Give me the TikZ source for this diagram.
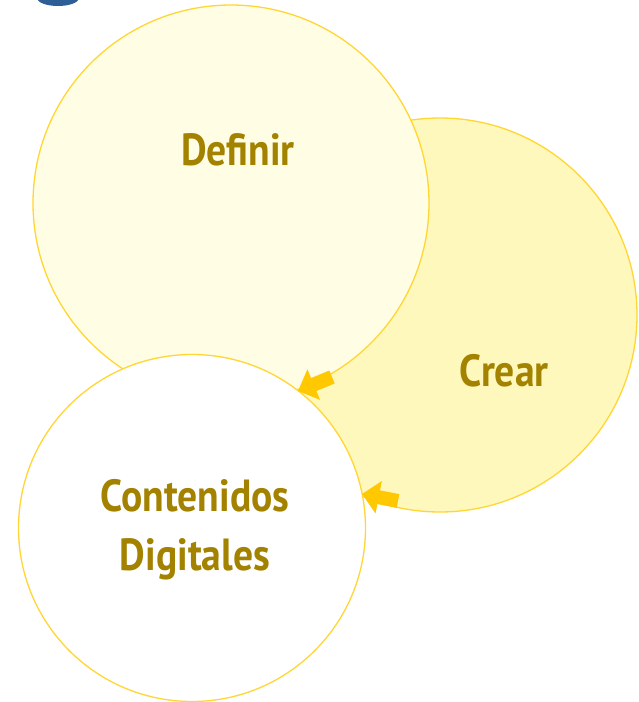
\documentclass[tikz,border=0pt]{standalone}
\usepackage{fontspec}
\newfontfamily\lblfont[FakeStretch=0.88]{PT Sans}
\usetikzlibrary{arrows.meta}
\definecolor{ringline}{HTML}{FFD633}
\definecolor{deffill}{HTML}{FFFDE4}
\definecolor{crefill}{HTML}{FFF8BC}
\definecolor{txtcol}{HTML}{A38200}
\definecolor{arrowcol}{HTML}{FFC800}
\definecolor{blobcol}{HTML}{2E5E96}
\tikzset{
  ring/.style={circle, draw=ringline, line width=1.3pt, inner sep=0pt},
  lbl/.style={text=txtcol, font=\lblfont\bfseries\fontsize{45}{59}\selectfont, inner sep=0pt, align=center},
  yarrow/.style={draw=arrowcol, line width=14pt, -{Triangle[length=17pt,width=32pt]}, arrowcol}
}
\begin{document}
\begin{tikzpicture}[x=1pt,y=-1pt]
\useasboundingbox (0,0) rectangle (638,702);
\begin{scope}
\clip (0,0) rectangle (638,702);
\fill[blobcol] (58,-2) ellipse [x radius=21, y radius=8];
\node[ring, fill=crefill, minimum size=394pt] (cre) at (440,315) {};
\node[ring, fill=deffill, minimum size=396pt] (def) at (231,203) {};
\node[ring, fill=white, minimum size=347pt] (con) at (192,528) {};
\end{scope}
\node[lbl, anchor=base] (tdef) at (238,165) {Definir};
\node[lbl, anchor=base] (tcre) at (504,386) {Crear};
\node[lbl] (tcon) at (195,530) {Contenidos\\Digitales};
\coordinate (a1s) at (332,377);
\coordinate (a1e) at (298,391);
\coordinate (a2s) at (398,501);
\coordinate (a2e) at (362,494);
\draw[yarrow] (a1s) -- (a1e);
\draw[yarrow] (a2s) -- (a2e);
\end{tikzpicture}
\end{document}
